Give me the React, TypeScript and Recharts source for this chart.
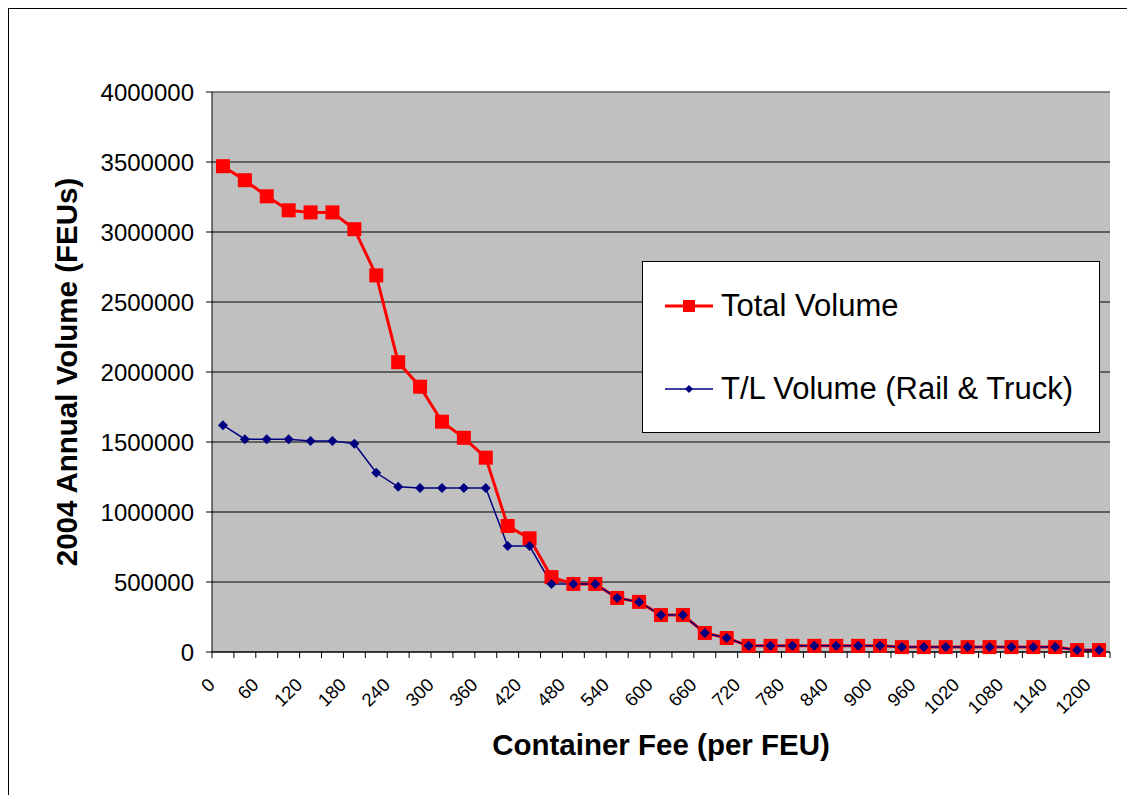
import {
    LineChart,
    Line,
    XAxis,
    YAxis,
    CartesianGrid,
    Legend,
    Label,
    ReferenceLine,
} from 'recharts';

const fees = [
    0, 30, 60, 90, 120, 150, 180, 210, 240, 270, 300, 330, 360, 390, 420, 450,
    480, 510, 540, 570, 600, 630, 660, 690, 720, 750, 780, 810, 840, 870, 900,
    930, 960, 990, 1020, 1050, 1080, 1110, 1140, 1170, 1200,
];

const totalVolume = [
    3470000, 3370000, 3255000, 3155000, 3140000, 3140000, 3020000, 2690000,
    2070000, 1895000, 1645000, 1530000, 1388000, 900000, 812000, 535000,
    486000, 486000, 386000, 358000, 264000, 264000, 136000, 100000, 44000,
    44000, 44000, 44000, 44000, 44000, 44000, 35000, 35000, 35000, 35000,
    35000, 35000, 35000, 35000, 14000, 14000,
];

const tlVolume = [
    1620000, 1520000, 1520000, 1520000, 1508000, 1508000, 1488000, 1280000,
    1180000, 1172000, 1172000, 1172000, 1172000, 757000, 757000, 486000,
    486000, 486000, 386000, 358000, 264000, 264000, 136000, 100000, 44000,
    44000, 44000, 44000, 44000, 44000, 44000, 35000, 35000, 35000, 35000,
    35000, 35000, 35000, 35000, 14000, 14000,
];

const yTicks = [0, 500000, 1000000, 1500000, 2000000, 2500000, 3000000, 3500000, 4000000];

const seriesNames = ['Total Volume', 'T/L Volume (Rail & Truck)'];

const data = fees.map((fee, i) => ({
    fee,
    total: totalVolume[i],
    tl: tlVolume[i],
}));

const FONT = '"Liberation Sans", Arial, sans-serif';
const CHART_W = 1126;
const CHART_H = 786;
const Y_AXIS_W = 203;
const MARGIN = { top: 83, right: 25, bottom: 0, left: 0 };
const PLOT_W = CHART_W - Y_AXIS_W - MARGIN.right;
const STEP = PLOT_W / fees.length;

const RED = '#FF0000';
const NAVY = '#000080';

function SquareDot(props: any) {
    const { cx, cy } = props;
    if (cx == null || cy == null) return null;
    return <rect x={cx - 7} y={cy - 7} width={14} height={14} fill={RED} />;
}

function DiamondDot(props: any) {
    const { cx, cy } = props;
    if (cx == null || cy == null) return null;
    return (
        <path
            d={`M${cx},${cy - 5} L${cx + 5},${cy} L${cx},${cy + 5} L${cx - 5},${cy} Z`}
            fill={NAVY}
        />
    );
}

// Excel style: marks between categories, label every other one
function FeeTick(props: any) {
    const { x, y, payload, index } = props;
    const axisY = y - 6;
    const isLast = index === fees.length - 1;
    return (
        <g>
            <line x1={x - STEP / 2} y1={axisY} x2={x - STEP / 2} y2={axisY + 6} stroke="#000" />
            {isLast && (
                <line x1={x + STEP / 2} y1={axisY} x2={x + STEP / 2} y2={axisY + 6} stroke="#000" />
            )}
            {index % 2 === 0 && (
                <text
                    x={0}
                    y={0}
                    transform={`translate(${x - 7},${axisY + 34}) rotate(-45)`}
                    textAnchor="end"
                    fontFamily={FONT}
                    fontSize={18.5}
                    fill="#000"
                >
                    {payload.value}
                </text>
            )}
        </g>
    );
}

function LegendBox() {
    const row = {
        position: 'absolute' as const,
        left: 22,
        display: 'flex',
        alignItems: 'center',
        whiteSpace: 'nowrap' as const,
    };
    return (
        <div
            style={{
                width: 458,
                height: 172,
                boxSizing: 'border-box',
                background: '#fff',
                border: '1px solid #000',
                fontFamily: FONT,
                fontSize: 31,
                color: '#000',
                position: 'relative',
            }}
        >
            <div style={{ ...row, top: 26 }}>
                <svg width={48} height={36}>
                    <line x1={0} y1={18} x2={48} y2={18} stroke={RED} strokeWidth={3} />
                    <rect x={18} y={12} width={12} height={12} fill={RED} />
                </svg>
                <span style={{ marginLeft: 8, lineHeight: '36px' }}>{seriesNames[0]}</span>
            </div>
            <div style={{ ...row, top: 109 }}>
                <svg width={48} height={36}>
                    <line x1={0} y1={18} x2={48} y2={18} stroke={NAVY} strokeWidth={1.5} />
                    <path d="M24,14 L28,18 L24,22 L20,18 Z" fill={NAVY} />
                </svg>
                <span style={{ marginLeft: 8, lineHeight: '36px' }}>{seriesNames[1]}</span>
            </div>
        </div>
    );
}

export default function App() {
    return (
        <div
            style={{
                position: 'relative',
                width: CHART_W,
                height: CHART_H,
                borderTop: '1px solid #000',
                borderLeft: '1px solid #000',
                background: '#fff',
            }}
        >
            <LineChart width={CHART_W} height={CHART_H} data={data} margin={MARGIN}>
                <CartesianGrid vertical={false} stroke="#000" fill="#C0C0C0" fillOpacity={1} />
                <ReferenceLine y={4000000} stroke="#808080" strokeWidth={1.5} />
                <XAxis
                    dataKey="fee"
                    type="category"
                    interval={0}
                    height={143}
                    padding={{ left: STEP / 2, right: STEP / 2 }}
                    tickSize={6}
                    tickMargin={0}
                    tickLine={false}
                    axisLine={{ stroke: '#000' }}
                    tick={<FeeTick />}
                >
                    <Label
                        content={(p: any) => {
                            const vb = p.viewBox || { x: 203, y: 643, width: PLOT_W, height: 143 };
                            return (
                                <text
                                    x={vb.x + vb.width / 2}
                                    y={vb.y + 103}
                                    textAnchor="middle"
                                    fontFamily={FONT}
                                    fontWeight="bold"
                                    fontSize={29.5}
                                    fill="#000"
                                >
                                    Container Fee (per FEU)
                                </text>
                            );
                        }}
                    />
                </XAxis>
                <YAxis
                    width={Y_AXIS_W}
                    domain={[0, 4000000]}
                    ticks={yTicks}
                    interval={0}
                    tickSize={6}
                    tickMargin={12}
                    tickLine={{ stroke: '#000' }}
                    axisLine={{ stroke: '#000' }}
                    tick={{ fill: '#000', fontSize: 24, fontFamily: FONT }}
                >
                    <Label
                        content={(p: any) => {
                            const vb = p.viewBox || { x: 0, y: 83, width: 203, height: 560 };
                            const cy = vb.y + vb.height / 2;
                            return (
                                <text
                                    x={0}
                                    y={0}
                                    transform={`translate(${vb.x + 68},${cy}) rotate(-90)`}
                                    textAnchor="middle"
                                    fontFamily={FONT}
                                    fontWeight="bold"
                                    fontSize={29.5}
                                    fill="#000"
                                >
                                    2004 Annual Volume (FEUs)
                                </text>
                            );
                        }}
                    />
                </YAxis>
                <YAxis
                    yAxisId="edge"
                    orientation="right"
                    width={0}
                    domain={[0, 4000000]}
                    tick={false}
                    tickLine={false}
                    axisLine={{ stroke: '#808080', strokeWidth: 1.5 }}
                />
                <Legend
                    layout="horizontal"
                    verticalAlign="middle"
                    align="center"
                    wrapperStyle={{ position: 'absolute', left: 633, top: 252, width: 458, height: 172 }}
                    content={() => <LegendBox />}
                />
                <Line
                    type="linear"
                    dataKey="total"
                    name={seriesNames[0]}
                    stroke={RED}
                    strokeWidth={3}
                    dot={<SquareDot />}
                    activeDot={false}
                    isAnimationActive={false}
                />
                <Line
                    type="linear"
                    dataKey="tl"
                    name={seriesNames[1]}
                    stroke={NAVY}
                    strokeWidth={1.5}
                    dot={<DiamondDot />}
                    activeDot={false}
                    isAnimationActive={false}
                />
            </LineChart>
        </div>
    );
}
